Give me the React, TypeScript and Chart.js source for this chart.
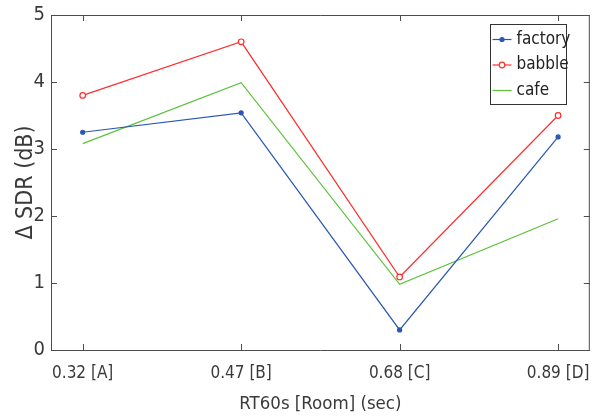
import React, { useEffect, useRef } from "react";
import { Chart, registerables } from "chart.js";

Chart.register(...registerables);

const categories = ["0.32 [A]", "0.47 [B]", "0.68 [C]", "0.89 [D]"];
const factory = [3.25, 3.54, 0.3, 3.18];
const babble = [3.8, 4.6, 1.09, 3.5];
const cafe = [3.08, 3.99, 0.98, 1.96];
const yTicks = [0, 1, 2, 3, 4, 5];

const FONT = "'Liberation Sans Narrow', 'DejaVu Sans Condensed', 'Arial Narrow', sans-serif";
const AXIS = "#4d4d4d";
const TEXT = "#3a3a3a";

const toPts = (arr: number[]) => arr.map((y, i) => ({ x: i + 1, y }));

const boxPlugin = {
  id: "boxTicks",
  afterDraw(chart: any) {
    const { ctx, chartArea, scales } = chart;
    const { left, right, top, bottom } = chartArea;
    ctx.save();
    ctx.strokeStyle = AXIS;
    ctx.lineWidth = 1;
    ctx.beginPath();
    ctx.moveTo(left, top + 0.5);
    ctx.lineTo(right - 0.5, top + 0.5);
    ctx.lineTo(right - 0.5, bottom);
    ctx.stroke();
    const tl = 6;
    ctx.beginPath();
    categories.forEach((_, i) => {
      const px = Math.round(scales.x.getPixelForValue(i + 1)) + 0.5;
      ctx.moveTo(px, bottom);
      ctx.lineTo(px, bottom - tl);
      ctx.moveTo(px, top);
      ctx.lineTo(px, top + tl);
    });
    yTicks.forEach((v) => {
      const py = Math.round(scales.y.getPixelForValue(v)) + 0.5;
      ctx.moveTo(left, py);
      ctx.lineTo(left + tl, py);
      ctx.moveTo(right, py);
      ctx.lineTo(right - tl, py);
    });
    ctx.stroke();

    // legend
    const bw = 76, bh = 80;
    const bx = Math.round(right - 24 - bw) + 0.5;
    const by = Math.round(top + 9) + 0.5;
    ctx.fillStyle = "#ffffff";
    ctx.fillRect(bx, by, bw, bh);
    ctx.strokeStyle = "#333333";
    ctx.strokeRect(bx, by, bw, bh);
    ctx.font = `17px ${FONT}`;
    ctx.textBaseline = "middle";
    chart.data.datasets.forEach((ds: any, i: number) => {
      const y = by + 15 + i * 25.5;
      ctx.strokeStyle = ds.borderColor;
      ctx.lineWidth = 1.2;
      ctx.beginPath();
      ctx.moveTo(bx + 2, y);
      ctx.lineTo(bx + 21, y);
      ctx.stroke();
      if (ds.pointRadius > 0) {
        ctx.beginPath();
        ctx.arc(bx + 11.5, y, ds.pointRadius, 0, Math.PI * 2);
        ctx.fillStyle = ds.pointBackgroundColor;
        ctx.fill();
        ctx.stroke();
      }
      ctx.fillStyle = "#222222";
      ctx.fillText(ds.label, bx + 26, y);
    });
    ctx.restore();
  },
};

export default function App() {
  const ref = useRef<HTMLCanvasElement>(null);
  useEffect(() => {
    document.body.style.margin = "0";
    const canvas = ref.current!;
    const chart = new Chart(canvas, {
      type: "line",
      data: {
        datasets: [
          {
            label: "factory",
            data: toPts(factory),
            borderColor: "#2a56b4",
            backgroundColor: "#2a56b4",
            pointBackgroundColor: "#2a56b4",
            pointBorderColor: "#2a56b4",
            pointRadius: 2,
            borderWidth: 1.2,
          },
          {
            label: "babble",
            data: toPts(babble),
            borderColor: "#ff2e2e",
            backgroundColor: "#ff2e2e",
            pointBackgroundColor: "#ffffff",
            pointBorderColor: "#ff2e2e",
            pointRadius: 2.8,
            borderWidth: 1.2,
          },
          {
            label: "cafe",
            data: toPts(cafe),
            borderColor: "#5cc23a",
            backgroundColor: "#5cc23a",
            pointBackgroundColor: "#5cc23a",
            pointRadius: 0,
            borderWidth: 1.2,
          },
        ],
      },
      options: {
        responsive: false,
        animation: false,
        layout: { padding: { top: 15, right: 4, left: 0, bottom: 0 } },
        plugins: { legend: { display: false }, tooltip: { enabled: false } },
        scales: {
          x: {
            type: "linear",
            min: 0.8,
            max: 4.2,
            afterBuildTicks: (s: any) => {
              s.ticks = categories.map((_, i) => ({ value: i + 1 }));
            },
            afterFit: (s: any) => {
              s.height = 66;
              s.paddingLeft = 0;
              s.paddingRight = 0;
            },
            grid: { display: false, drawTicks: false },
            border: { display: true, color: AXIS, width: 1 },
            ticks: {
              padding: 13,
              color: TEXT,
              font: { family: FONT, size: 17 },
              maxRotation: 0,
              autoSkip: false,
              callback: (v: any) => categories[Math.round(v) - 1] ?? "",
            },
            title: {
              display: true,
              text: "RT60s [Room] (sec)",
              color: TEXT,
              font: { family: FONT, size: 18.5 },
              padding: { top: 0, bottom: 1 },
            },
          },
          y: {
            min: 0,
            max: 5,
            afterBuildTicks: (s: any) => {
              s.ticks = yTicks.map((v) => ({ value: v }));
            },
            afterFit: (s: any) => {
              s.width = 51;
              s.paddingTop = 0;
              s.paddingBottom = 0;
            },
            grid: { display: false, drawTicks: false },
            border: { display: true, color: AXIS, width: 1 },
            ticks: {
              padding: 6,
              color: TEXT,
              font: { family: FONT, size: 20 },
            },
            title: {
              display: true,
              text: "Δ SDR (dB)",
              color: TEXT,
              font: { family: FONT, size: 23 },
              padding: { top: 12, bottom: 0 },
            },
          },
        },
      },
      plugins: [boxPlugin],
    } as any);
    return () => chart.destroy();
  }, []);
  return (
    <div style={{ width: 595, height: 416 }}>
      <canvas ref={ref} width={595} height={416} style={{ display: "block" }} />
    </div>
  );
}
